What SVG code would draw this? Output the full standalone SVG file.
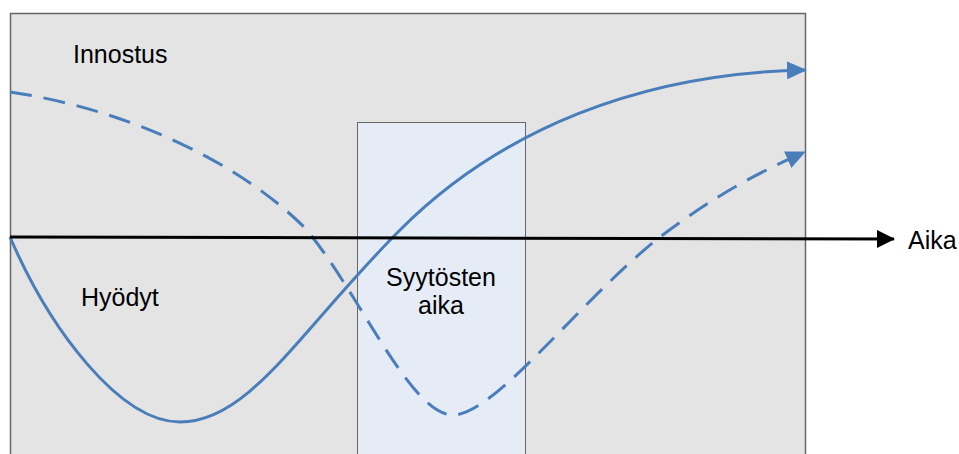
<svg xmlns="http://www.w3.org/2000/svg" width="959" height="454" viewBox="0 0 959 454">
<style>
.lbl{font-family:"Liberation Sans",Arial,sans-serif;font-size:25px;fill:#000}
.curve{fill:none;stroke:#4A7EBB;stroke-width:3}
.dash{stroke-dasharray:22 12}
</style>
<defs>
<marker id="blueArrow" markerUnits="userSpaceOnUse" markerWidth="20" markerHeight="18" refX="19" refY="9" orient="auto">
<path d="M0,0 L20,9 L0,18 Z" fill="#4A7EBB"/>
</marker>
<marker id="blackArrow" markerUnits="userSpaceOnUse" markerWidth="18" markerHeight="18" refX="17" refY="9" orient="auto">
<path d="M0,0 L18,9 L0,18 Z" fill="#000"/>
</marker>
</defs>
<g id="background">
<rect x="10.5" y="13.5" width="795" height="450" fill="#E4E4E4" stroke="#666" stroke-width="1.5"/>
</g>
<g id="accusation-period">
<rect x="357.5" y="122.5" width="168" height="340" fill="#E5ECF6" stroke="#666" stroke-width="1"/>
<text class="lbl" x="441" y="286" text-anchor="middle">Syytösten</text>
<text class="lbl" x="441" y="314" text-anchor="middle">aika</text>
</g>
<g id="labels">
<text class="lbl" x="73" y="63">Innostus</text>
<text class="lbl" x="81" y="306">Hyödyt</text>
<text class="lbl" x="908" y="249">Aika</text>
</g>
<g id="connectors">
<path class="curve dash" d="M10,92 C120,108 235,158 305,228 C358,290 410,415 453,415 C495,415 580,300 660,237 C720,192 760,172 805,152" marker-end="url(#blueArrow)"/>
<path class="curve" d="M10,237 C50,330 120,422 180,422 C250,422 300,330 400,230 C500,130 640,73 806,70" marker-end="url(#blueArrow)"/>
<line x1="10" y1="237" x2="894" y2="239" stroke="#000" stroke-width="3" marker-end="url(#blackArrow)"/>
</g>
</svg>
